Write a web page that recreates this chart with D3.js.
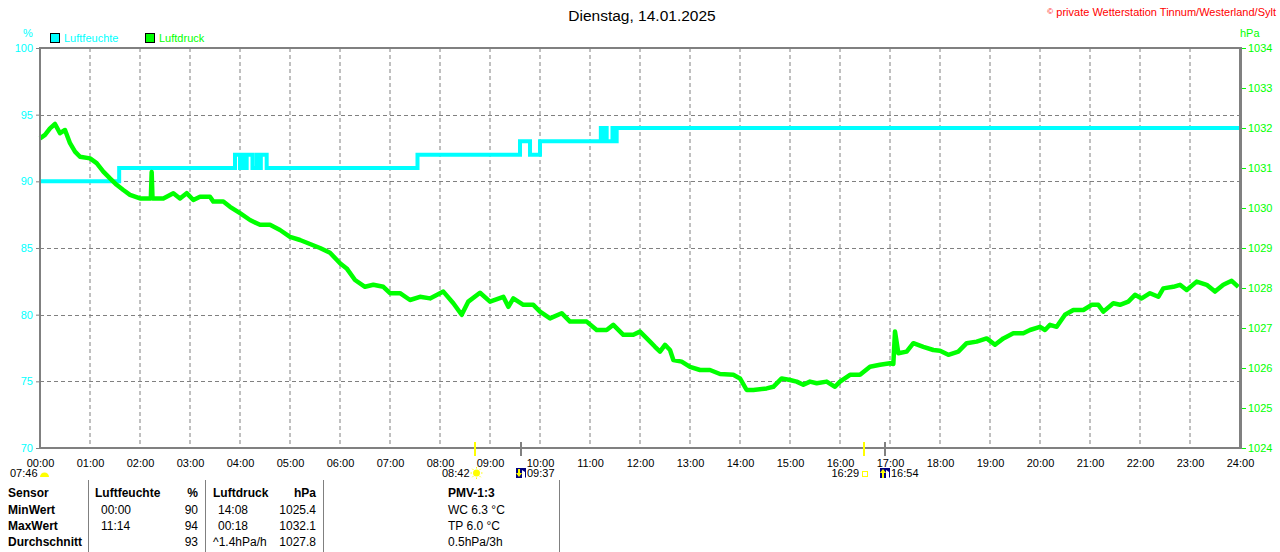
<!DOCTYPE html>
<html>
<head>
<meta charset="utf-8">
<script src="https://cdn.jsdelivr.net/npm/d3@7"></script>
<style>
  body { margin: 0; background: #fff; }
  svg { display: block; font-family: "Liberation Sans", Arial, sans-serif; }
</style>
</head>
<body>
<svg width="1280" height="552"></svg>
<script>
/* ----------------------------------------------------------
data
---------------------------------------------------------- */

var title = "Dienstag, 14.01.2025";
var copyright = "private Wetterstation Tinnum/Westerland/Sylt";

var seriesNames = ["Luftfeuchte", "Luftdruck"];
var seriesColors = ["#00ffff", "#00ff00"];

// Luftfeuchte in %, as steps (time the value starts)
var humTimes = ["00:00", "01:35", "03:54", "04:00", "04:04", "04:07", "04:08", "04:15", "04:20", "04:24",
  "04:25", "04:32", "07:33", "09:36", "09:48", "10:00", "11:13", "11:16", "11:17", "11:20",
  "11:27", "11:30", "11:32", "24:00"];
var humValues = [90, 91, 92, 91, 92, 91, 92, 91, 92, 91,
  92, 91, 92, 93, 92, 93, 94, 93, 94, 93,
  94, 93, 94, 94];

// Luftdruck in hPa
var presTimes = ["00:00", "00:06", "00:12", "00:18", "00:24", "00:30", "00:36", "00:42", "00:48", "01:00",
  "01:08", "01:16", "01:24", "01:32", "01:40", "01:48", "02:00", "02:13", "02:14", "02:15",
  "02:28", "02:40", "02:48", "02:56", "03:04", "03:12", "03:24", "03:28", "03:40", "03:48",
  "04:00", "04:12", "04:24", "04:36", "04:48", "05:00", "05:12", "05:24", "05:36", "05:48",
  "06:00", "06:08", "06:18", "06:30", "06:40", "06:52", "07:00", "07:12", "07:24", "07:36",
  "07:48", "08:04", "08:16", "08:26", "08:34", "08:48", "09:00", "09:16", "09:22", "09:28",
  "09:40", "09:52", "10:00", "10:12", "10:26", "10:36", "10:56", "11:08", "11:20", "11:28",
  "11:40", "11:52", "12:00", "12:12", "12:18", "12:24", "12:30", "12:36", "12:40", "12:50",
  "13:00", "13:12", "13:24", "13:36", "13:52", "14:00", "14:08", "14:16", "14:32", "14:40",
  "14:50", "15:00", "15:08", "15:16", "15:24", "15:32", "15:44", "15:54", "16:00", "16:12",
  "16:24", "16:36", "16:48", "17:00", "17:04", "17:06", "17:10", "17:20", "17:28", "17:40",
  "17:52", "18:00", "18:10", "18:22", "18:32", "18:44", "18:56", "19:06", "19:16", "19:28",
  "19:40", "19:48", "20:00", "20:06", "20:12", "20:20", "20:30", "20:40", "20:52", "21:02",
  "21:10", "21:16", "21:28", "21:36", "21:46", "21:54", "22:02", "22:12", "22:22", "22:28",
  "22:40", "22:48", "22:56", "23:08", "23:20", "23:30", "23:40", "23:50", "23:58"];
var presValues = [1031.74, 1031.83, 1031.99, 1032.10, 1031.87, 1031.95, 1031.62, 1031.41, 1031.28, 1031.24,
  1031.12, 1030.91, 1030.74, 1030.58, 1030.45, 1030.33, 1030.24, 1030.24, 1030.90, 1030.24,
  1030.24, 1030.37, 1030.24, 1030.37, 1030.20, 1030.28, 1030.28, 1030.16, 1030.16, 1030.03,
  1029.87, 1029.70, 1029.58, 1029.58, 1029.45, 1029.28, 1029.20, 1029.10, 1029.00, 1028.88,
  1028.62, 1028.49, 1028.20, 1028.03, 1028.08, 1028.03, 1027.87, 1027.87, 1027.70, 1027.78,
  1027.74, 1027.91, 1027.62, 1027.33, 1027.66, 1027.88, 1027.66, 1027.78, 1027.53, 1027.74,
  1027.58, 1027.58, 1027.41, 1027.24, 1027.37, 1027.16, 1027.16, 1026.95, 1026.95, 1027.08,
  1026.83, 1026.83, 1026.91, 1026.66, 1026.53, 1026.41, 1026.58, 1026.45, 1026.20, 1026.16,
  1026.03, 1025.95, 1025.95, 1025.85, 1025.83, 1025.74, 1025.45, 1025.45, 1025.49, 1025.53,
  1025.74, 1025.70, 1025.66, 1025.58, 1025.66, 1025.62, 1025.66, 1025.53, 1025.66, 1025.83,
  1025.83, 1026.03, 1026.08, 1026.12, 1026.10, 1026.91, 1026.37, 1026.41, 1026.62, 1026.53,
  1026.45, 1026.43, 1026.33, 1026.41, 1026.62, 1026.66, 1026.74, 1026.58, 1026.74, 1026.87,
  1026.87, 1026.95, 1027.03, 1026.95, 1027.08, 1027.03, 1027.33, 1027.45, 1027.45, 1027.58,
  1027.58, 1027.41, 1027.62, 1027.58, 1027.66, 1027.83, 1027.74, 1027.87, 1027.78, 1027.99,
  1028.03, 1028.08, 1027.95, 1028.16, 1028.08, 1027.91, 1028.08, 1028.18, 1028.03];

var humTicks = [70, 75, 80, 85, 90, 95, 100];
var presTicks = [1024, 1025, 1026, 1027, 1028, 1029, 1030, 1031, 1032, 1033, 1034];
var hourTicks = d3.range(0, 25);

// Sonne / Mond
var dayLength = "07:46";
var astroTimes = ["08:42", "09:37", "16:29", "16:54"];
var astroKinds = ["sunrise", "moonset", "sunset", "moonrise"];

// Tabelle
var tableHead = ["Sensor", "Luftfeuchte", "%", "Luftdruck", "hPa", "PMV-1:3"];
var rowLabels = ["MinWert", "MaxWert", "Durchschnitt"];
var humTimeCol = ["00:00", "11:14", ""];
var humValCol = ["90", "94", "93"];
var presTimeCol = [" 14:08", " 00:18", "^1.4hPa/h"];
var presValCol = ["1025.4", "1032.1", "1027.8"];
var pmvCol = ["WC 6.3 °C", "TP 6.0 °C", "0.5hPa/3h"];

/* ----------------------------------------------------------
prepare
---------------------------------------------------------- */

var svg = d3.select("svg");
var gray = "#808080";

function toMin(s) {
  var p = s.split(":");
  return +p[0] * 60 + +p[1];
}
function pad(n) { return (n < 10 ? "0" : "") + n; }

var x = d3.scaleLinear().domain([0, 1440]).range([40, 1240]);
var yH = d3.scaleLinear().domain([70, 100]).range([448, 48]);
var yP = d3.scaleLinear().domain([1024, 1034]).range([448, 48]);

//header
svg.append("text").attr("x", 642).attr("y", 21).attr("text-anchor", "middle")
  .style("font-size", "15.5px").attr("fill", "#000").text(title);

var cp = svg.append("text").attr("x", 1276).attr("y", 16).attr("text-anchor", "end")
  .style("font-size", "11px").attr("fill", "#ff0000");
cp.append("tspan").style("font-size", "8px").attr("dy", "-2").text("©");
cp.append("tspan").attr("dy", "2").text(" " + copyright);

svg.append("text").attr("x", 23).attr("y", 37).style("font-size", "11px")
  .attr("fill", seriesColors[0]).text("%");
svg.append("text").attr("x", 1240).attr("y", 37).style("font-size", "11px")
  .attr("fill", seriesColors[1]).text("hPa");

//legend
var leg = svg.selectAll(".legend").data(seriesNames).enter().append("g")
  .attr("class", "legend")
  .attr("transform", (d, i) => "translate(" + (50 + i * 95) + ",33)");
leg.append("rect").attr("x", 0.5).attr("y", 0.5).attr("width", 9).attr("height", 9)
  .attr("fill", (d, i) => seriesColors[i]).attr("stroke", "#000");
leg.append("text").attr("x", 14).attr("y", 9).style("font-size", "11px")
  .attr("fill", (d, i) => seriesColors[i]).text(d => d);

/* ----------------------------------------------------------
grid + axes
---------------------------------------------------------- */

var grid = svg.append("g");
grid.selectAll(".vg").data(hourTicks.slice(1, 24)).enter().append("line")
  .attr("x1", d => x(d * 60)).attr("x2", d => x(d * 60))
  .attr("y1", 48).attr("y2", 448)
  .attr("stroke", gray).attr("stroke-dasharray", "4,3");
grid.selectAll(".hg").data(humTicks.slice(1, 6)).enter().append("line")
  .attr("x1", 40).attr("x2", 1240)
  .attr("y1", d => Math.round(yH(d)) + 0.5).attr("y2", d => Math.round(yH(d)) + 0.5)
  .attr("stroke", gray).attr("stroke-dasharray", "4,3");

var axL = svg.append("g").attr("transform", "translate(40,0)")
  .call(d3.axisLeft(yH).tickValues(humTicks).tickSize(4).tickPadding(3));
axL.select(".domain").remove();
axL.selectAll("line").attr("stroke", gray);
axL.selectAll("text").attr("fill", seriesColors[0]).style("font-size", "11px");

var axR = svg.append("g").attr("transform", "translate(1241,0)")
  .call(d3.axisRight(yP).tickValues(presTicks).tickSize(5).tickPadding(2).tickFormat(d3.format("d")));
axR.select(".domain").remove();
axR.selectAll("line").attr("stroke", seriesColors[1]);
axR.selectAll("text").attr("fill", seriesColors[1]).style("font-size", "11px");

var axB = svg.append("g").attr("transform", "translate(0,448)")
  .call(d3.axisBottom(x).tickValues(hourTicks.map(h => h * 60)).tickSize(0).tickPadding(11)
    .tickFormat(m => pad(m / 60) + ":00"));
axB.select(".domain").remove();
axB.selectAll("text").attr("fill", "#000").style("font-size", "11px");

/* ----------------------------------------------------------
lines
---------------------------------------------------------- */

var humData = humTimes.map((t, i) => ({ t: toMin(t), v: humValues[i] }));
var presData = presTimes.map((t, i) => ({ t: toMin(t), v: presValues[i] }));

svg.append("path").datum(humData)
  .attr("fill", "none").attr("stroke", seriesColors[0]).attr("stroke-width", 4)
  .attr("d", d3.line().x(d => x(d.t)).y(d => yH(d.v)).curve(d3.curveStepAfter));

svg.append("path").datum(presData)
  .attr("fill", "none").attr("stroke", seriesColors[1]).attr("stroke-width", 4.5)
  .attr("stroke-linejoin", "round")
  .attr("d", d3.line().x(d => x(d.t)).y(d => yP(d.v)));

//frame
var fr = svg.append("g").attr("stroke", gray);
fr.append("line").attr("x1", 40).attr("x2", 1240).attr("y1", 48).attr("y2", 48).attr("stroke-width", 2);
fr.append("line").attr("x1", 40).attr("x2", 1240).attr("y1", 448).attr("y2", 448).attr("stroke-width", 2);
fr.append("line").attr("x1", 40).attr("x2", 40).attr("y1", 47).attr("y2", 449).attr("stroke-width", 2);
fr.append("line").attr("x1", 1240.5).attr("x2", 1240.5).attr("y1", 47).attr("y2", 449).attr("stroke-width", 3);

/* ----------------------------------------------------------
sonne / mond
---------------------------------------------------------- */

var astro = svg.append("g").style("font-size", "11px");
astro.append("text").attr("x", 10).attr("y", 477).attr("fill", "#000").text(dayLength);
astro.append("path").attr("d", "M40,477 A4.5,4.5 0 0 1 49,477 Z").attr("fill", "#ffff00");

astroTimes.forEach(function (t, i) {
  var k = astroKinds[i];
  var px = Math.round(x(toMin(t)));
  var isSun = k == "sunrise" || k == "sunset";
  astro.append("line").attr("x1", px).attr("x2", px).attr("y1", 442).attr("y2", 456)
    .attr("stroke", isSun ? "#ffff00" : gray).attr("stroke-width", 2);
  var g = astro.append("g").attr("transform", "translate(" + px + ",0)");
  if (k == "sunrise") {
    g.append("circle").attr("cx", 1.5).attr("cy", 473).attr("r", 3.5).attr("fill", "#ffff00");
    g.selectAll(".ray").data(d3.range(8)).enter().append("line")
      .attr("x1", d => 1.5 + Math.cos(d * Math.PI / 4) * 4.5).attr("y1", d => 473 + Math.sin(d * Math.PI / 4) * 4.5)
      .attr("x2", d => 1.5 + Math.cos(d * Math.PI / 4) * 6).attr("y2", d => 473 + Math.sin(d * Math.PI / 4) * 6)
      .attr("stroke", "#ffff00").attr("stroke-width", 1);
    g.append("text").attr("x", -5.5).attr("y", 477).attr("text-anchor", "end").attr("fill", "#000").text(t);
  } else if (k == "sunset") {
    g.append("rect").attr("x", -1.5).attr("y", 471.5).attr("width", 5).attr("height", 5)
      .attr("fill", "none").attr("stroke", "#ffff00");
    g.append("text").attr("x", -5).attr("y", 477).attr("text-anchor", "end").attr("fill", "#000").text(t);
  } else {
    var up = k == "moonrise";
    g.append("rect").attr("x", -5).attr("y", 468).attr("width", 10).attr("height", 10).attr("fill", "#000080");
    g.append("path").attr("d", "M1,470 L4,472 L4,477 L5,478 L1,478 Z").attr("fill", "#fff");
    g.append("path").attr("d", up ? "M-2,469 L1,473 L-1,473 L-1,478 L-3,478 L-3,473 L-5,473 Z"
                                   : "M-2,477 L1,473 L-1,473 L-1,469 L-3,469 L-3,473 L-5,473 Z")
      .attr("fill", "#ffff00");
    g.append("text").attr("x", 6).attr("y", 477).attr("fill", "#000").text(t);
  }
});

/* ----------------------------------------------------------
tabelle
---------------------------------------------------------- */

var tb = svg.append("g").style("font-size", "12px").attr("fill", "#000");
[88.5, 205.5, 323.5, 559.5].forEach(function (lx) {
  tb.append("line").attr("x1", lx).attr("x2", lx).attr("y1", 480).attr("y2", 552).attr("stroke", gray);
});

var headX = [8, 95, 198, 213, 316, 448];
var headA = ["start", "start", "end", "start", "end", "start"];
tb.selectAll(".th").data(tableHead).enter().append("text")
  .attr("x", (d, i) => headX[i]).attr("y", 497).attr("text-anchor", (d, i) => headA[i])
  .style("font-weight", "bold").text(d => d);

var rowY = [513.5, 529.5, 545.5];
rowLabels.forEach(function (lab, i) {
  var y = rowY[i];
  tb.append("text").attr("x", 8).attr("y", y).style("font-weight", "bold").text(lab);
  tb.append("text").attr("x", 101).attr("y", y).text(humTimeCol[i]);
  tb.append("text").attr("x", 198).attr("y", y).attr("text-anchor", "end").text(humValCol[i]);
  tb.append("text").attr("x", presTimeCol[i].charAt(0) == " " ? 218 : 213).attr("y", y).text(presTimeCol[i].trim());
  tb.append("text").attr("x", 316).attr("y", y).attr("text-anchor", "end").text(presValCol[i]);
  tb.append("text").attr("x", 448).attr("y", y).text(pmvCol[i]);
});
</script>
</body>
</html>
